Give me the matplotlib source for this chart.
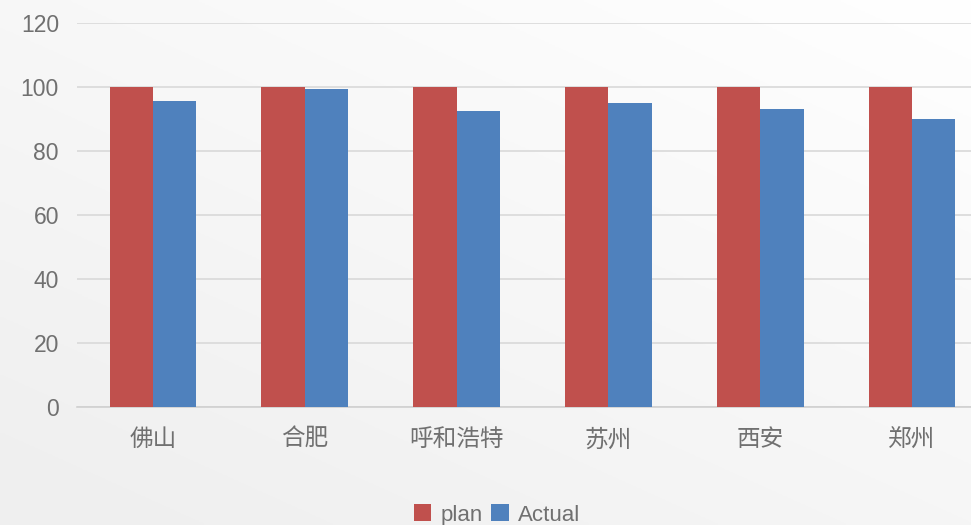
import matplotlib
matplotlib.use("Agg")
import matplotlib.pyplot as plt
import numpy as np

plt.rcParams['font.family'] = ['Liberation Sans', 'Noto Sans CJK SC', 'DejaVu Sans']

categories = ['佛山', '合肥', '呼和浩特', '苏州', '西安', '郑州']
plan = [100, 100, 100, 100, 100, 100]
actual = [95.5, 99.4, 92.5, 95.0, 93.0, 89.9]
yticks = [0, 20, 40, 60, 80, 100, 120]

W, H = 971, 525
fig = plt.figure(figsize=(W / 100, H / 100), dpi=100)

# background gradient
bg = fig.add_axes([0, 0, 1, 1], zorder=0)
yy, xx = np.mgrid[0:1:200j, 0:1:200j]
g = np.clip(0.5 * (1 - xx) + 0.6 * yy, 0, 1) / 1.1
vals = 1.0 - 0.065 * g
img = np.dstack([vals, vals, vals])
bg.imshow(img, extent=[0, 1, 0, 1], aspect='auto', origin='upper')
bg.axis('off')

ax = fig.add_axes([77 / W, 1 - 407 / H, (988 - 77) / W, (407 - 23) / H], zorder=1)
ax.set_facecolor('none')
x = np.arange(len(categories))
bw = 0.285
ax.bar(x - bw / 2, plan, bw, color='#C0504D', label='plan', zorder=3)
ax.bar(x + bw / 2, actual, bw, color='#4F81BD', label='Actual', zorder=3)

ax.set_xlim(-0.5, len(categories) - 0.5)
ax.set_ylim(0, 120)
ax.set_yticks(yticks)
ax.set_xticks(x)
ax.set_xticklabels(categories)
ax.grid(axis='y', color='#d9d9d9', linewidth=1.2, zorder=0)
for s in ['top', 'right', 'left']:
    ax.spines[s].set_visible(False)
ax.spines['bottom'].set_color('#d0d0d0')
ax.spines['bottom'].set_linewidth(1.2)
ax.tick_params(axis='both', length=0, labelcolor='#707070')
ax.tick_params(axis='y', pad=13, labelsize=16.5)
ax.tick_params(axis='x', pad=16, labelsize=17)

fig.legend(loc='center', bbox_to_anchor=(497 / W, 1 - 515 / H), ncol=2, frameon=False,
           fontsize=16, labelcolor='#707070', handlelength=0.8, handleheight=0.8,
           handletextpad=0.4, columnspacing=0.4)

fig.savefig('out.png', dpi=100)
